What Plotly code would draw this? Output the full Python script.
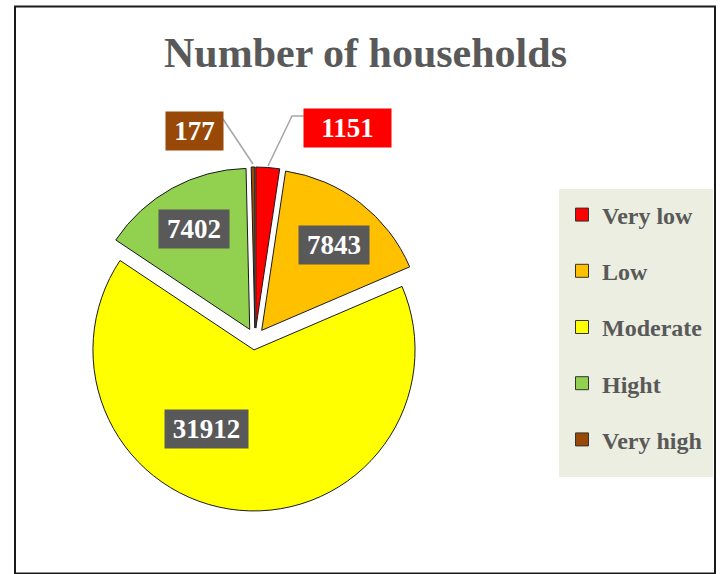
import plotly.graph_objects as go

# ---- data ----
categories = ["Very low", "Low", "Moderate", "Hight", "Very high"]
households = [1151, 7843, 31912, 7402, 177]
colors = ["#FF0000", "#FFC000", "#FFFF00", "#92D050", "#984807"]

W, H = 724, 574
def px(x):
    return x / W
def py(y):
    return 1 - y / H

SERIF = "Liberation Serif, Times New Roman, serif"
GRAY = "#595959"

fig = go.Figure()
fig.add_trace(go.Pie(
    labels=categories, values=households, sort=False,
    direction="clockwise", rotation=0,
    marker=dict(colors=colors, line=dict(color="#1a1a1a", width=1)),
    pull=[0.068] * len(households), textinfo="none",
    hoverinfo="label+value", showlegend=False,
    domain=dict(x=[px(83), px(427)], y=[py(511), py(167)]),
))

# legend entries (one per category)
for c, col in zip(categories, colors):
    fig.add_trace(go.Scatter(
        x=[None], y=[None], mode="markers", name=c, legendgroup=c,
        marker=dict(symbol="square", size=13, color=col,
                    line=dict(color="#333333", width=1)),
        hoverinfo="skip",
    ))

# data label boxes: (centre x, centre y, background, box width) in pixels
label_style = {
    "Very low": (347.5, 127.5, "#FF0000", 87),
    "Low": (334, 244.5, GRAY, 70),
    "Moderate": (206.5, 428.5, GRAY, 83),
    "Hight": (194, 228.5, GRAY, 70),
    "Very high": (194.5, 131.5, "#984807", 57),
}
annotations = []
for c, v in zip(categories, households):
    x, y, bg, w = label_style[c]
    annotations.append(dict(
        x=px(x), y=py(y), xref="paper", yref="paper",
        xanchor="center", yanchor="middle", showarrow=False,
        text=f"<b>{v}</b>", font=dict(family=SERIF, size=27, color="white"),
        bgcolor=bg, borderpad=4, width=w - 8,
    ))

shapes = [
    # chart border
    dict(type="rect", xref="paper", yref="paper",
         x0=px(15), x1=px(715), y0=py(573.5), y1=py(6.5),
         line=dict(color="#1a1a1a", width=2), fillcolor="rgba(0,0,0,0)", layer="below"),
    # legend background
    dict(type="rect", xref="paper", yref="paper",
         x0=px(559), x1=px(713), y0=py(477), y1=py(189),
         line=dict(width=0), fillcolor="#EBEEE0", layer="below"),
    # leader lines
    dict(type="path", xref="paper", yref="paper",
         path=f"M {px(268)},{py(166)} L {px(292)},{py(116)} L {px(304)},{py(116)}",
         line=dict(color="#A6A6A6", width=1.5)),
    dict(type="path", xref="paper", yref="paper",
         path=f"M {px(253)},{py(164)} L {px(223)},{py(119)}",
         line=dict(color="#A6A6A6", width=1.5)),
]

fig.update_layout(
    width=W, height=H,
    margin=dict(l=0, r=0, t=0, b=0),
    paper_bgcolor="white", plot_bgcolor="rgba(0,0,0,0)",
    title=dict(text="<b>Number of households</b>", x=px(365.5), xanchor="center",
               y=py(52), yanchor="middle",
               font=dict(family=SERIF, size=42, color=GRAY)),
    xaxis=dict(visible=False), yaxis=dict(visible=False),
    legend=dict(x=px(562), y=py(192.5), xanchor="left", yanchor="top",
                bgcolor="rgba(0,0,0,0)", traceorder="grouped",
                tracegroupgap=22,
                font=dict(family=SERIF, size=24, color=GRAY, weight="bold")),
    annotations=annotations,
    shapes=shapes,
)

fig.write_html("out.html", config={"displayModeBar": False},
               post_script="document.body.style.margin='0';")
